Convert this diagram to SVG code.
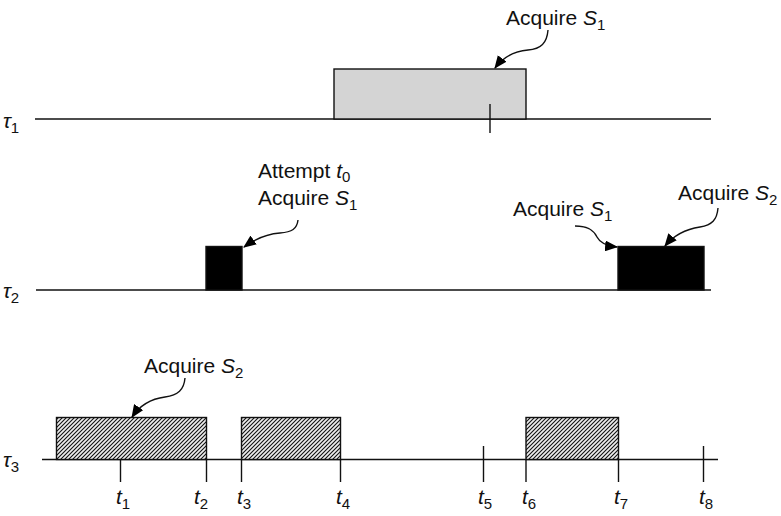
<svg xmlns="http://www.w3.org/2000/svg" width="781" height="516" viewBox="0 0 781 516">
<style>
text{font-family:"Liberation Sans",Arial,sans-serif;font-size:21px;fill:#111}
.it{font-style:italic}
.sub{font-size:15px}
.ax{stroke:#111;stroke-width:1.4;fill:none}
.box{stroke:#111;stroke-width:1.4}
.conn{stroke:#111;stroke-width:1.4;fill:none;marker-end:url(#ah)}
</style>
<defs>
<pattern id="hatch" patternUnits="userSpaceOnUse" width="4" height="4">
<rect width="4" height="4" fill="#eee"/>
<path d="M-1,1 L1,-1 M0,4 L4,0 M3,5 L5,3" stroke="#111" stroke-width="1.1"/>
</pattern>
<marker id="ah" viewBox="0 0 12 10" refX="11" refY="5" markerWidth="13" markerHeight="11" markerUnits="userSpaceOnUse" orient="auto">
<path d="M0,0 L12,5 L0,10 Z" fill="#000"/>
</marker>
</defs>

<g id="tau1">
<text x="3" y="128" class="it">τ<tspan class="sub" font-style="normal" dy="5">1</tspan></text>
<line class="ax" x1="35" y1="119" x2="711" y2="119"/>
<rect id="tau1-job" class="box" x="334" y="69" width="192" height="50" fill="#d4d4d4"/>
<line class="ax" x1="490" y1="104" x2="490" y2="133"/>
</g>

<g id="tau2">
<text x="3" y="298" class="it">τ<tspan class="sub" font-style="normal" dy="5">2</tspan></text>
<line class="ax" x1="36" y1="290" x2="711" y2="290"/>
<rect id="tau2-job1" class="box" x="206" y="246.5" width="36" height="43.5" fill="#000"/>
<rect id="tau2-job2" class="box" x="618" y="246.5" width="86" height="43.5" fill="#000"/>
</g>

<g id="tau3">
<text x="3" y="467" class="it">τ<tspan class="sub" font-style="normal" dy="5">3</tspan></text>
<line class="ax" x1="42" y1="459.5" x2="718" y2="459.5"/>
<rect id="tau3-job1" class="box" x="56.5" y="417.5" width="150" height="42" fill="url(#hatch)"/>
<rect id="tau3-job2" class="box" x="241.5" y="417.5" width="99" height="42" fill="url(#hatch)"/>
<rect id="tau3-job3" class="box" x="526" y="417.5" width="92.5" height="42" fill="url(#hatch)"/>
</g>

<g id="ticks">
<line class="ax" x1="120.5" y1="459.5" x2="120.5" y2="482"/>
<line class="ax" x1="206.5" y1="459.5" x2="206.5" y2="482"/>
<line class="ax" x1="241.5" y1="459.5" x2="241.5" y2="482"/>
<line class="ax" x1="340.5" y1="459.5" x2="340.5" y2="482"/>
<line class="ax" x1="483.5" y1="446" x2="483.5" y2="482"/>
<line class="ax" x1="526" y1="459.5" x2="526" y2="482"/>
<line class="ax" x1="618.5" y1="459.5" x2="618.5" y2="482"/>
<line class="ax" x1="703.5" y1="446" x2="703.5" y2="482"/>
</g>

<g id="time-labels">
<text x="116" y="504"><tspan class="it">t</tspan><tspan class="sub" dy="5">1</tspan></text>
<text x="194" y="504"><tspan class="it">t</tspan><tspan class="sub" dy="5">2</tspan></text>
<text x="237" y="504"><tspan class="it">t</tspan><tspan class="sub" dy="5">3</tspan></text>
<text x="336" y="504"><tspan class="it">t</tspan><tspan class="sub" dy="5">4</tspan></text>
<text x="478" y="504"><tspan class="it">t</tspan><tspan class="sub" dy="5">5</tspan></text>
<text x="522" y="504"><tspan class="it">t</tspan><tspan class="sub" dy="5">6</tspan></text>
<text x="614" y="504"><tspan class="it">t</tspan><tspan class="sub" dy="5">7</tspan></text>
<text x="699" y="504"><tspan class="it">t</tspan><tspan class="sub" dy="5">8</tspan></text>
</g>

<g id="labels">
<text x="506" y="25">Acquire <tspan class="it">S</tspan><tspan class="sub" dy="5">1</tspan></text>
<text x="258" y="178">Attempt <tspan class="it">t</tspan><tspan class="sub" dy="4">0</tspan></text>
<text x="258" y="205">Acquire <tspan class="it">S</tspan><tspan class="sub" dy="5">1</tspan></text>
<text x="513" y="216">Acquire <tspan class="it">S</tspan><tspan class="sub" dy="5">1</tspan></text>
<text x="678" y="200">Acquire <tspan class="it">S</tspan><tspan class="sub" dy="5">2</tspan></text>
<text x="144" y="373">Acquire <tspan class="it">S</tspan><tspan class="sub" dy="5">2</tspan></text>
</g>

<g id="connectors">
<path class="conn" d="M548,30 C547,43 541,49 528,50 C514,51 504,56 495,68"/>
<path class="conn" d="M298,220 C297,229 292,232 280,233 C266,234 255,239 244,247"/>
<path class="conn" d="M575,226 C589,226 594,231 597,237 C600,243 606,246 617,247"/>
<path class="conn" d="M718,208 C717,220 712,225 700,227 C687,229 674,235 665,246"/>
<path class="conn" d="M185,378 C184,390 178,395 165,397 C150,399 140,405 132,417"/>
</g>
</svg>
